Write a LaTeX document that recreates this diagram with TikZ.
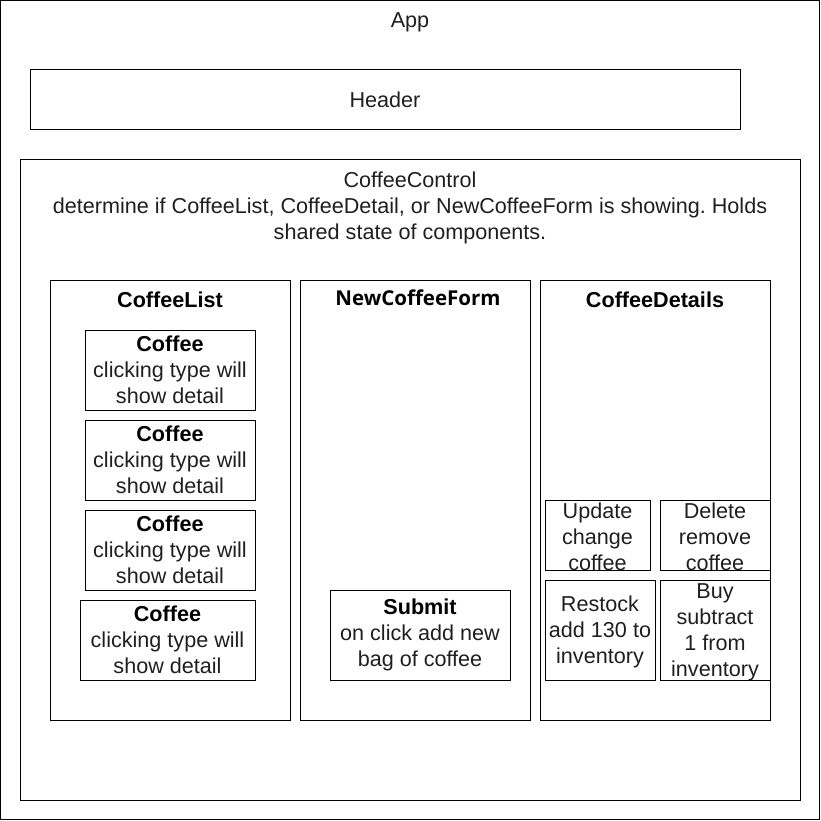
\documentclass[tikz,border=0pt]{standalone}
\usepackage{fontspec}
\setmainfont{Liberation Sans}
\newfontfamily\formfont{Open Sans}
\frenchspacing
\begin{document}
\begin{tikzpicture}[x=1pt,y=-1pt,line width=1pt,
  panel/.style={draw,inner sep=0pt},
  lbl/.style={align=center,inner sep=0pt,text=black!88,font=\fontsize{21.6}{26}\selectfont},
  title/.style={lbl,text=black,font=\fontsize{21.6}{26}\selectfont\bfseries}]
\useasboundingbox (0,0) rectangle (821,821);
\node[panel,minimum width=819,minimum height=819] (app) at (410,410) {};
\node[lbl,yshift=-2pt] (apptext) at (410,20) {App};
\node[panel,minimum width=710,minimum height=60] (header) at (385,100) {};
\node[lbl] (headertext) at (header) {Header};
\node[panel,minimum width=780,minimum height=640] (control) at (410,480) {};
\node[lbl,yshift=-2pt] (controltext) at (410,206) {CoffeeControl\\determine if CoffeeList, CoffeeDetail, or NewCoffeeForm is showing. Holds\\shared state of components.};

\foreach \n/\x/\w in {list/170/240,form/415/230,details/655/230}
  \node[panel,minimum width=\w,minimum height=440] (\n) at (\x,500) {};
\node[title] (listtitle) at (170,300) {CoffeeList};
\node[title,font=\fontsize{20.5}{26}\selectfont\formfont\bfseries] (formtitle) at (418,298) {NewCoffeeForm};
\node[title] (detailstitle) at (655,300) {CoffeeDetails};

\foreach \i/\x/\y/\w in {1/170/370/170,2/170/460/170,3/170/550/170,4/167.5/640/175}
  \node[panel,lbl,minimum width=\w,minimum height=80] (coffee\i) at (\x,\y)
    {\textbf{\color{black}Coffee}\\clicking type will\\show detail};

\node[panel,lbl,minimum width=180,minimum height=90] (submit) at (420,635)
  {\textbf{\color{black}Submit}\\on click add new\\bag of coffee};

\foreach \n/\x/\y/\w/\h/\t in {
  update/597.5/535/105/70/{Update\\change\\coffee},
  delete/715/535/110/70/{Delete\\remove\\coffee},
  restock/600/630/110/100/{Restock\\add 130 to\\inventory},
  buy/715/630/110/100/{Buy\\subtract\\1 from\\inventory}}{
  \node[panel,minimum width=\w,minimum height=\h] (\n) at (\x,\y) {};
  \node[lbl,yshift=-2pt] (\n text) at (\n) {\t};
}
\end{tikzpicture}
\end{document}
